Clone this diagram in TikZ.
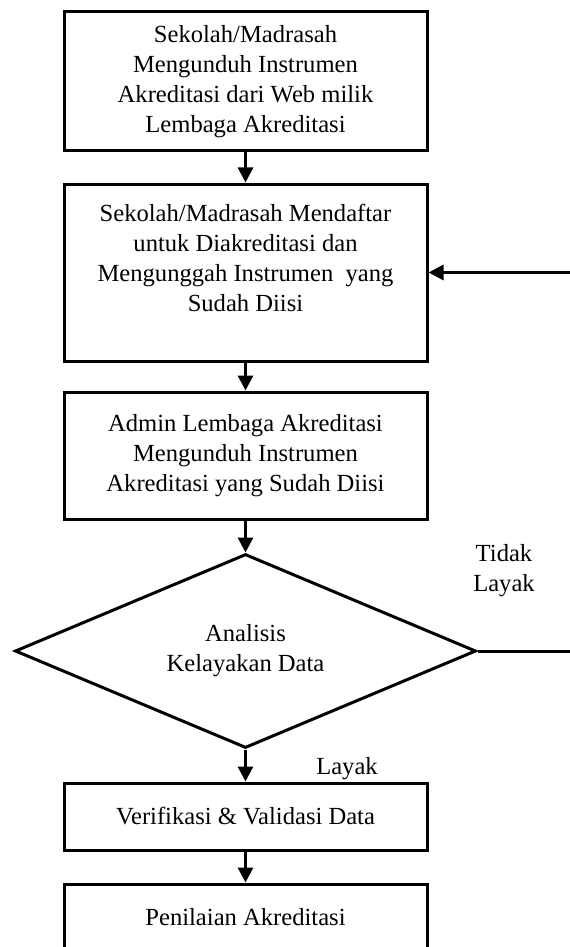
\documentclass[tikz,border=0pt]{standalone}
\usepackage{fontspec}
\setmainfont{Liberation Serif}
\usetikzlibrary{arrows.meta,positioning,shapes.geometric}
\newcommand{\flowsize}{\fontsize{35}{42.5}\selectfont}

\begin{document}
\begin{tikzpicture}[font=\flowsize,
    stepbox/.style={draw, line width=1.5mm, minimum width=181.5mm,
                    align=center, inner sep=0pt},
    flow/.style={-{Triangle[length=7.5mm,width=7.5mm]}, line width=1.5mm}]
  \useasboundingbox (0,0) rectangle (28.5,-47.35);
  % steps
  \node[stepbox, minimum height=69.5mm] (unduh) at (12.275,-4.075)
        {Sekolah/Madrasah\\Mengunduh Instrumen\\Akreditasi dari Web milik\\Lembaga Akreditasi};
  \node[stepbox, minimum height=88.5mm] (daftar) at (12.275,-13.625)
        {Sekolah/Madrasah Mendaftar\\untuk Diakreditasi dan\\Mengunggah Instrumen~ yang\\Sudah Diisi\\\mbox{}};
  \node[stepbox, minimum height=63.5mm] (admin) at (12.275,-22.775)
        {Admin Lembaga Akreditasi\\Mengunduh Instrumen\\Akreditasi yang Sudah Diisi};
  \node[draw, diamond, aspect=2.4, line width=1.5mm, inner sep=0pt, align=center,
        minimum width=230.5mm, minimum height=97mm] (analisis) at (12.275,-32.55)
        {Analisis\\Kelayakan Data};
  \node[stepbox, minimum height=33.5mm] (verif) at (12.275,-40.825)
        {Verifikasi \& Validasi Data};
  \node[stepbox, minimum height=33.5mm] (nilai) at (12.275,-45.875)
        {Penilaian Akreditasi};
  % feedback ends at the page edge
  \coordinate (keluar) at (28.5,-32.55);
  \coordinate (kembali) at (28.5,-13.625);
  \draw[flow] (unduh) -- (daftar);
  \draw[flow] (daftar) -- (admin);
  \draw[flow] (admin) -- (analisis);
  \draw[flow] (analisis) -- (verif);
  \draw[flow] (verif) -- (nilai);
  \draw[line width=1.5mm] (analisis.east) -- (keluar);
  \draw[flow] (kembali) -- (daftar.east);
  \node[align=center] (tidak) at (25.2,-28.55) {Tidak\\Layak};
  \node (layak) at (17.35,-38.45) {Layak};
\end{tikzpicture}
\end{document}
